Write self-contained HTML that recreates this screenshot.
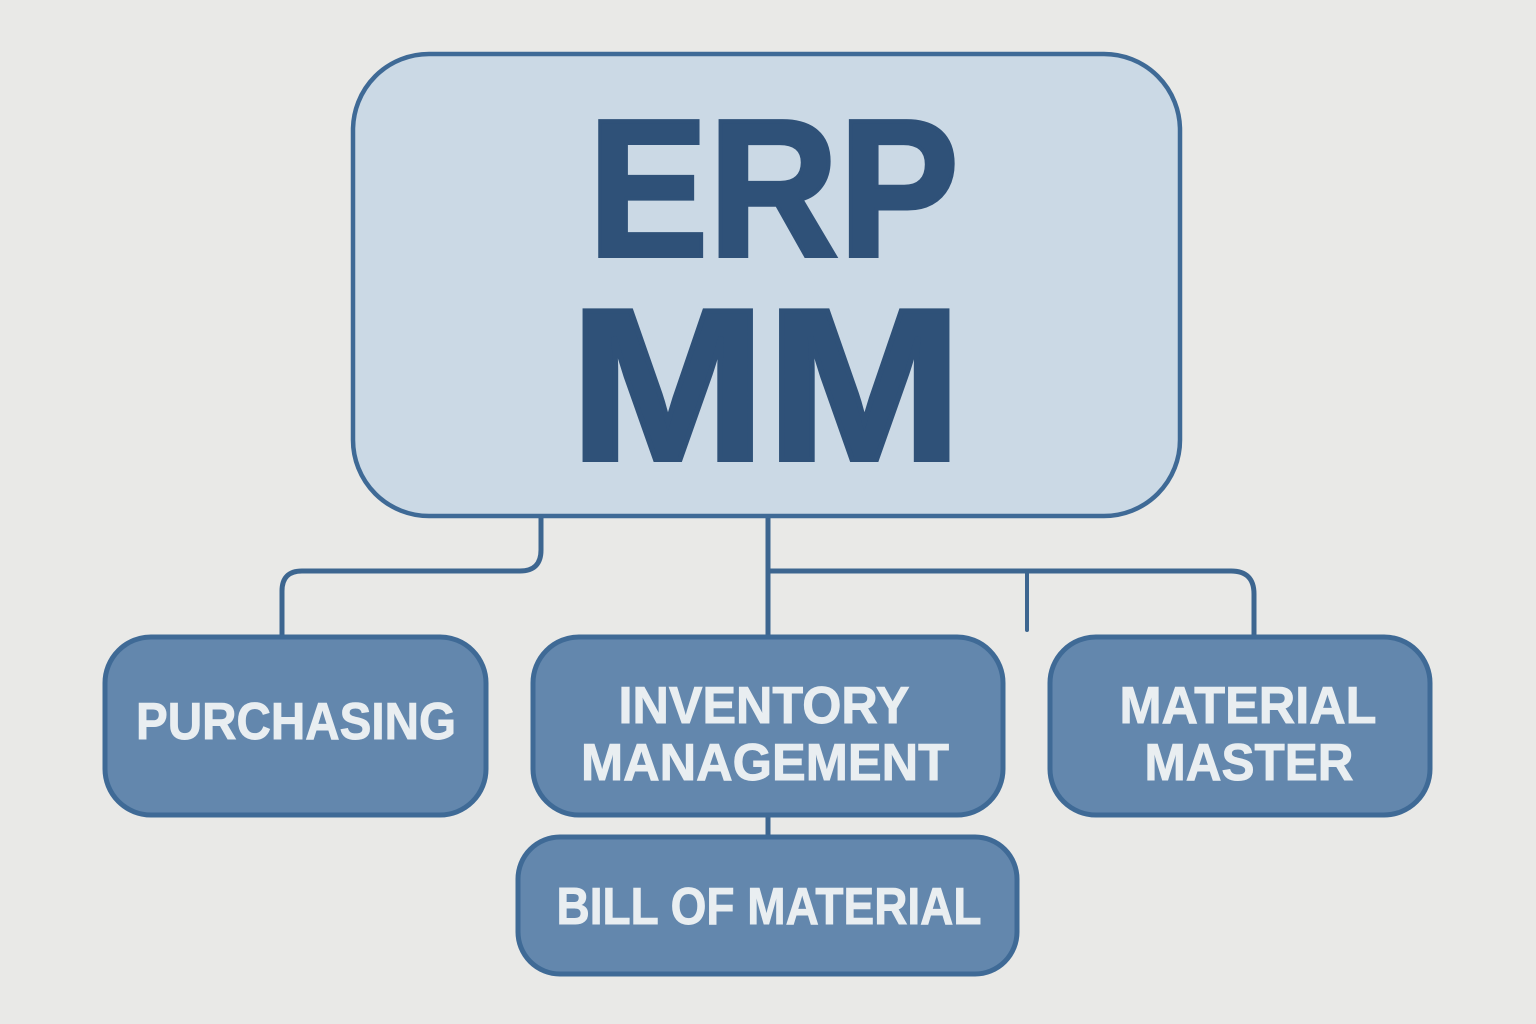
<!DOCTYPE html>
<html>
<head>
<meta charset="utf-8">
<style>
html,body{margin:0;padding:0;width:1536px;height:1024px;background:#e9e9e7;overflow:hidden}
svg{display:block}
text{font-family:"Liberation Sans",sans-serif;font-weight:700}
</style>
</head>
<body>
<svg width="1536" height="1024" viewBox="0 0 1536 1024" xmlns="http://www.w3.org/2000/svg">
<rect width="1536" height="1024" fill="#e9e9e7"/>
<g fill="none" stroke="#3d6690" stroke-width="5">
<path d="M541 516V550Q541 571 520 571H302Q282 571 282 591V637"/>
<path d="M768 516V637"/>
<path d="M768 571H1231Q1254 571 1254 594V637"/>
<path d="M1027 571V630" stroke-width="4" stroke-linecap="round"/>
<path d="M768 815V837"/>
</g>
<rect x="353" y="54" width="827" height="462" rx="76" fill="#cbd9e5" stroke="#3f6a96" stroke-width="4.5"/>
<g fill="#6387ad" stroke="#3f6a96" stroke-width="5">
<rect x="105" y="637" width="381" height="178" rx="46"/>
<rect x="533" y="637" width="470" height="178" rx="46"/>
<rect x="1050" y="637" width="380" height="178" rx="46"/>
<rect x="518" y="837" width="499" height="137" rx="42"/>
</g>
<g fill="#2f5178" stroke="#2f5178" stroke-linejoin="miter" text-anchor="middle">
<text x="773.5" y="256" font-size="196" stroke-width="4" textLength="371" lengthAdjust="spacingAndGlyphs">ERP</text>
<text x="766" y="459.5" font-size="216" stroke-width="5" textLength="393" lengthAdjust="spacingAndGlyphs">MM</text>
</g>
<g fill="#e9eef1" stroke="#e9eef1" stroke-width="0.9" font-size="52" text-anchor="middle">
<text x="296" y="739" textLength="320" lengthAdjust="spacingAndGlyphs">PURCHASING</text>
<text x="764" y="723" textLength="291" lengthAdjust="spacingAndGlyphs">INVENTORY</text>
<text x="765" y="780" textLength="368" lengthAdjust="spacingAndGlyphs">MANAGEMENT</text>
<text x="1248" y="723" textLength="257" lengthAdjust="spacingAndGlyphs">MATERIAL</text>
<text x="1249" y="780" textLength="209" lengthAdjust="spacingAndGlyphs">MASTER</text>
<text x="769" y="924" textLength="425" lengthAdjust="spacingAndGlyphs">BILL OF MATERIAL</text>
</g>
</svg>
</body>
</html>
